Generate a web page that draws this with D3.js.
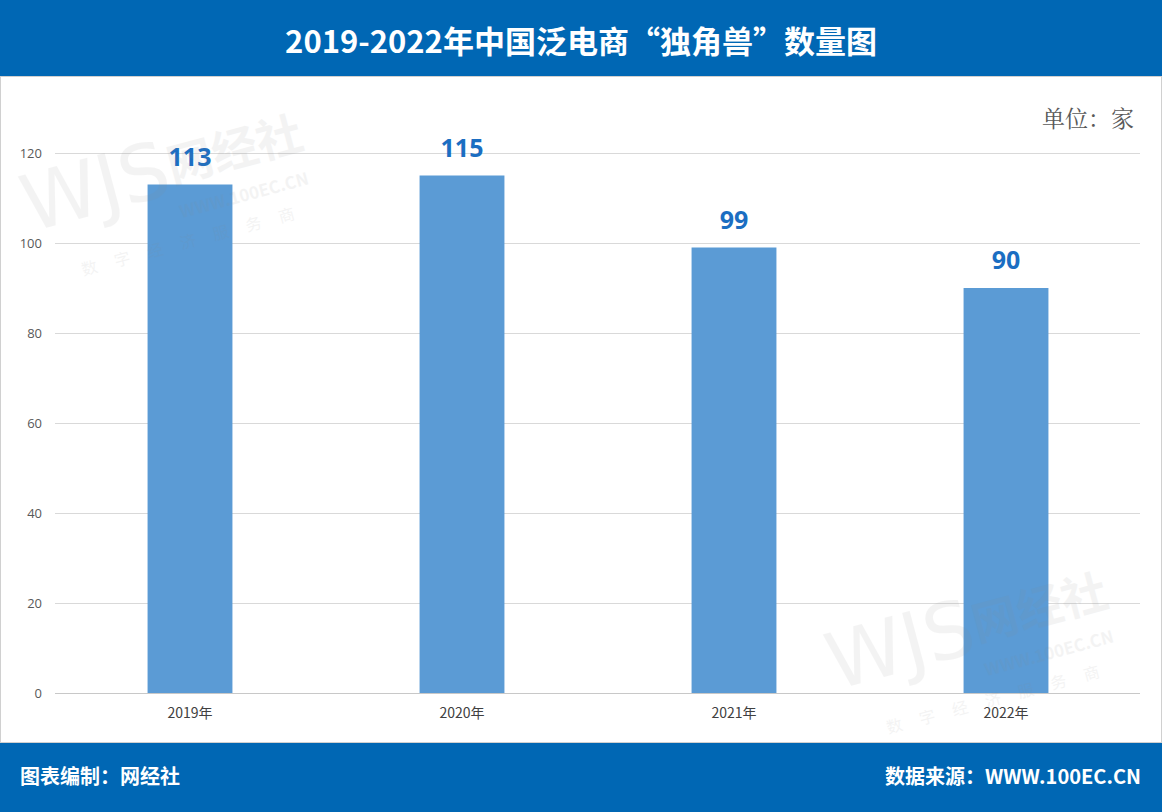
<!DOCTYPE html>
<html><head><meta charset="utf-8">
<script src="https://cdn.jsdelivr.net/npm/d3@7"></script>
<style>body{margin:0;background:#fff}svg{display:block}</style>
</head><body>
<script>
const categories = ["2019年","2020年","2021年","2022年"];
const values = [113,115,99,90];
const yTicks = [0,20,40,60,80,100,120];

const W=1162,H=812;
const svg=d3.select("body").append("svg").attr("width",W).attr("height",H);
const blue="#0067b4";
const ff="'Noto Sans CJK SC','Noto Sans',sans-serif";
// header
svg.append("rect").attr("x",0).attr("y",0).attr("width",W).attr("height",76).attr("fill",blue);
svg.append("text").attr("x",581).attr("y",53).attr("text-anchor","middle")
  .attr("fill","#fff").attr("font-family",ff)
  .attr("font-weight","bold").attr("font-size",31).text("2019-2022年中国泛电商“独角兽”数量图");
// body border
svg.append("rect").attr("x",0.5).attr("y",76.5).attr("width",W-1).attr("height",666).attr("fill","#fff").attr("stroke","#d0d0d0");
// footer
svg.append("rect").attr("x",0).attr("y",743).attr("width",W).attr("height",69).attr("fill",blue);
svg.append("text").attr("x",20).attr("y",784).attr("fill","#fff").attr("font-family",ff).attr("font-weight","bold").attr("font-size",20).text("图表编制：网经社");
svg.append("text").attr("x",1141).attr("y",784).attr("text-anchor","end").attr("fill","#fff").attr("font-family",ff).attr("font-weight","bold").attr("font-size",20).text("数据来源：WWW.100EC.CN");

// unit
svg.append("text").attr("x",1134).attr("y",127).attr("text-anchor","end").attr("fill","#595959")
  .attr("font-family","'Noto Serif CJK SC','Noto Sans CJK SC',serif").attr("font-size",23).text("单位：家");

// scales
const x=d3.scaleBand().domain(categories).range([54,1142]).paddingInner(0).paddingOuter(0);
const y=d3.scaleLinear().domain([0,120]).range([693,153]);
const barW=x.bandwidth()*0.312;

// gridlines
svg.append("g").selectAll("line").data(yTicks).join("line")
  .attr("x1",55).attr("x2",1140).attr("y1",d=>y(d)+0.5).attr("y2",d=>y(d)+0.5)
  .attr("stroke",d=>d===0?"#c8c8c8":"#d9d9d9").attr("stroke-width",1);

// y axis labels
const yAxis=d3.axisLeft(y).tickValues(yTicks).tickSize(0).tickPadding(0);
const ya=svg.append("g").attr("transform","translate(42,0)").call(yAxis);
ya.select(".domain").remove();
ya.selectAll("text").attr("fill","#595959").attr("font-family","'Open Sans','Noto Sans',sans-serif").attr("font-size",13);

// x axis labels
const xAxis=d3.axisBottom(x).tickSize(0).tickPadding(0);
const xa=svg.append("g").attr("transform","translate(0,708)").call(xAxis);
xa.select(".domain").remove();
xa.selectAll("text").attr("fill","#404040").attr("font-family",ff).attr("font-size",14);

// bars
svg.append("g").selectAll("rect").data(values).join("rect")
  .attr("x",(d,i)=>x(categories[i])+x.bandwidth()/2-barW/2)
  .attr("width",barW)
  .attr("y",d=>y(d)).attr("height",d=>y(0)-y(d))
  .attr("fill","#5b9bd5");

// value labels
svg.append("g").selectAll("text").data(values).join("text")
  .attr("x",(d,i)=>x(categories[i])+x.bandwidth()/2)
  .attr("y",d=>y(d)-19)
  .attr("text-anchor","middle").attr("fill","#1b6ec2")
  .attr("font-family","'Open Sans','Noto Sans',sans-serif").attr("font-weight","bold").attr("font-size",25)
  .text(d=>d);

// watermarks (faint, on top)
function wm(x0,y0){
  const g=svg.append("g").attr("transform",`translate(${x0},${y0}) rotate(-15)`).attr("fill","#888").attr("opacity",0.09).attr("font-family",ff).attr("pointer-events","none");
  g.append("text").attr("x",0).attr("y",0).attr("font-size",78).attr("font-family","'DejaVu Sans',sans-serif").attr("font-weight","normal").text("WJS");
  g.append("text").attr("x",150).attr("y",-10).attr("font-size",46).attr("font-weight","bold").text("网经社");
  g.append("text").attr("x",150).attr("y",26).attr("font-size",17).attr("font-weight","bold").text("WWW.100EC.CN");
  g.append("text").attr("x",40).attr("y",56).attr("font-size",16).attr("letter-spacing",18).text("数字经济服务商");
}
wm(30,232); wm(835,690);
</script>
</body></html>
